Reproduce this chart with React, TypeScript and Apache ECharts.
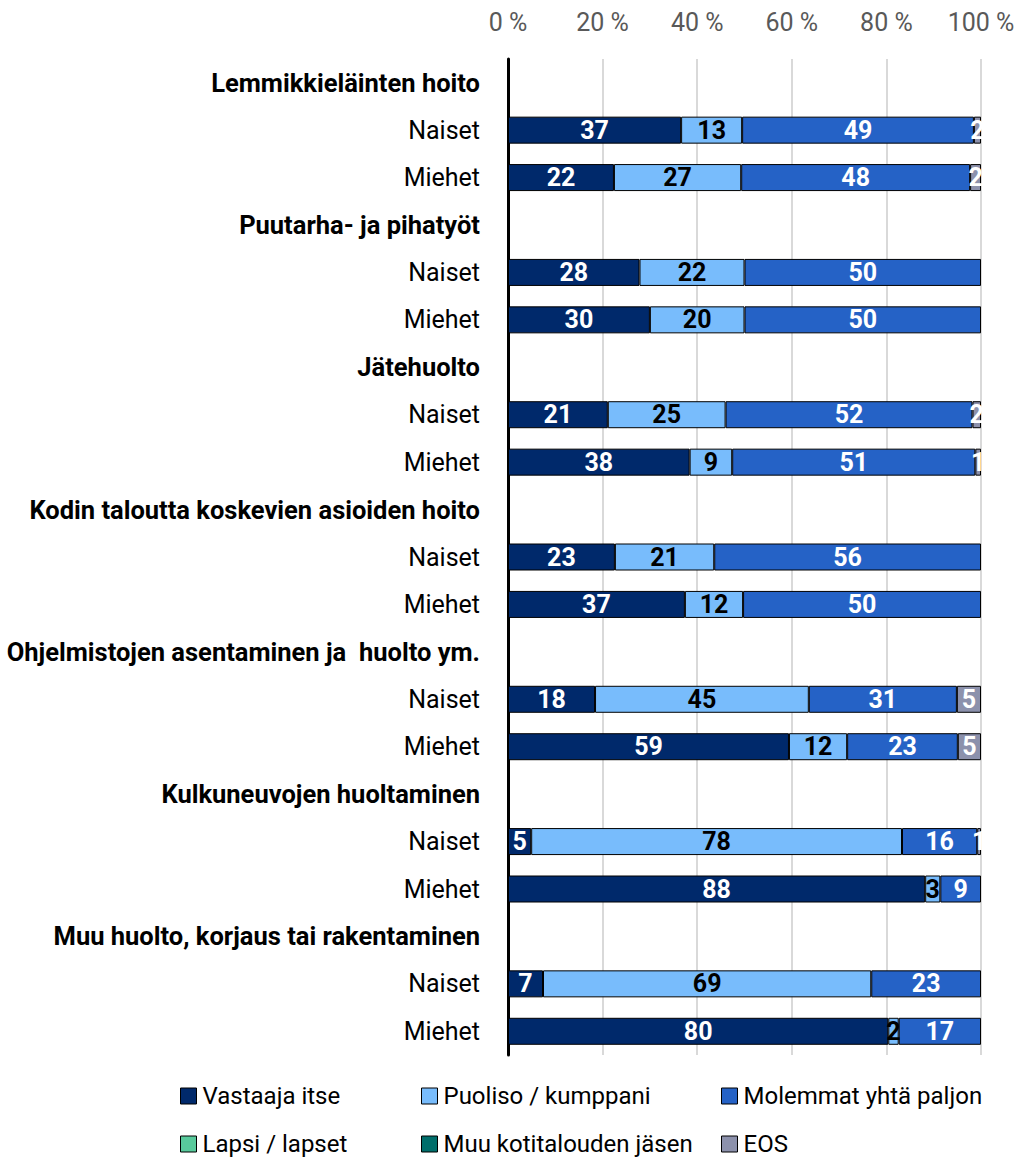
import React, { useEffect, useRef } from "react";
import * as echarts from "echarts";

const groups = [
  "Lemmikkieläinten hoito",
  "Puutarha- ja pihatyöt",
  "Jätehuolto",
  "Kodin taloutta koskevien asioiden hoito",
  "Ohjelmistojen asentaminen ja  huolto ym.",
  "Kulkuneuvojen huoltaminen",
  "Muu huolto, korjaus tai rakentaminen",
];
const subRows = ["Naiset", "Miehet"];

const seriesNames = [
  "Vastaaja itse",
  "Puoliso / kumppani",
  "Molemmat yhtä paljon",
  "Lapsi / lapset",
  "Muu kotitalouden jäsen",
  "EOS",
];

// values in order: per group [Naiset, Miehet]
const vastaaja = [36.6, 22.4, 27.8, 30.0, 21.1, 38.4, 22.6, 37.4, 18.4, 59.4, 4.9, 88.2, 7.4, 80.4];
const puoliso = [12.9, 26.9, 22.2, 20.0, 24.9, 9.0, 21.0, 12.3, 45.2, 12.3, 78.4, 3.2, 69.4, 2.2];
const molemmat = [49.0, 48.4, 50.0, 50.0, 52.2, 51.4, 56.4, 50.3, 31.3, 23.4, 15.9, 8.6, 23.2, 17.4];
const lapsi: (number | null)[] = [null, null, null, null, null, null, null, null, null, null, null, null, null, null];
const muu: (number | null)[] = [null, null, null, null, null, null, null, null, null, null, null, null, null, null];
const eos: (number | null)[] = [1.5, 2.3, null, null, 1.8, 1.2, null, null, 5.1, 4.9, 0.8, null, null, null];

const xTicks = [0, 20, 40, 60, 80, 100];

const colors = ["#00296b", "#78bcfc", "#2562c6", "#58ca9c", "#006e6b", "#8c91ac"];
const labelColors = ["#fff", "#000", "#fff", "#000", "#fff", "#fff"];

const FONT = "Roboto";

export default function App() {
  const ref = useRef<HTMLDivElement>(null);
  useEffect(() => {
    if (!ref.current) return;
    const chart = echarts.init(ref.current, null, { renderer: "svg" });

    const cats: string[] = [];
    const isHeader: boolean[] = [];
    groups.forEach((g) => {
      cats.push(g);
      isHeader.push(true);
      subRows.forEach((s) => {
        cats.push(s);
        isHeader.push(false);
      });
    });

    const expand = (arr: (number | null)[]) => {
      const out: (number | null)[] = [];
      groups.forEach((_, gi) => {
        out.push(null);
        out.push(arr[gi * 2]);
        out.push(arr[gi * 2 + 1]);
      });
      return out;
    };

    const allData = [vastaaja, puoliso, molemmat, lapsi, muu, eos];

    const series = seriesNames.map((name, i) => ({
      name,
      type: "bar",
      stack: "total",
      barWidth: 27,
      data: expand(allData[i]),
      itemStyle: { color: colors[i], borderColor: "#000", borderWidth: 1 },
      label: {
        show: true,
        position: "inside",
        color: labelColors[i],
        fontFamily: FONT,
        fontWeight: "bold",
        fontSize: 25,
        formatter: (p: any) => (p.value == null || p.value === 0 ? "" : String(Math.round(p.value))),
      },
      emphasis: { disabled: true },
    }));

    const legendPos = [
      [180, 1094],
      [421, 1094],
      [721, 1094],
      [180, 1142],
      [421, 1142],
      [721, 1142],
    ];

    const legends = seriesNames.map((name, i) => ({
      data: [name],
      left: legendPos[i][0],
      top: legendPos[i][1] - 10,
      orient: "horizontal",
      icon: "rect",
      itemWidth: 16,
      itemHeight: 16,
      itemGap: 0,
      padding: 0,
      selectedMode: false,
      textStyle: { fontFamily: FONT, fontSize: 24, lineHeight: 20, color: "#000", padding: [0, 0, 0, 1] },
      itemStyle: { borderColor: "#000", borderWidth: 1 },
    }));

    chart.setOption({
      animation: false,
      textStyle: { fontFamily: FONT },
      grid: {
        left: 508,
        right: 40,
        top: 59,
        bottom: 105,
        containLabel: false,
        outerBoundsMode: "none",
      },
      legend: legends,
      xAxis: {
        type: "value",
        position: "top",
        min: xTicks[0],
        max: xTicks[xTicks.length - 1],
        interval: 20,
        axisLine: { show: false },
        axisTick: { show: false },
        axisLabel: {
          formatter: "{value} %",
          color: "#595959",
          fontFamily: FONT,
          fontSize: 25,
          margin: 24,
        },
        splitLine: { show: true, lineStyle: { color: "#d9d9d9", width: 2 } },
      },
      yAxis: {
        type: "category",
        inverse: true,
        data: cats,
        axisLine: { show: true, lineStyle: { color: "#000", width: 3 } },
        axisTick: { show: false },
        axisLabel: {
          margin: 28,
          fontFamily: FONT,
          fontSize: 25,
          color: "#000",
          formatter: (v: string, idx: number) => (isHeader[idx] ? `{h|${v}}` : `{n|${v}}`),
          rich: {
            h: { fontFamily: FONT, fontSize: 25.5, fontWeight: "bold", color: "#000" },
            n: { fontFamily: FONT, fontSize: 25, color: "#000" },
          },
        },
      },
      series,
    });
    return () => chart.dispose();
  }, []);
  return <div ref={ref} style={{ width: 1021, height: 1160, position: "absolute", left: 0, top: 0 }} />;
}
